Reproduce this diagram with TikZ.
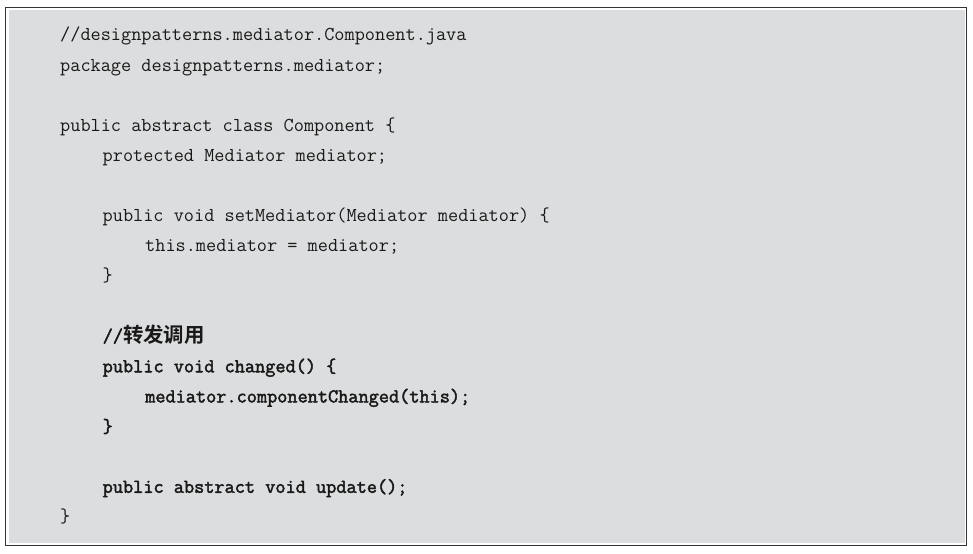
\documentclass[tikz,border=0pt]{standalone}
\usepackage{fontspec}
\newfontfamily\cjkb{Noto Sans CJK SC Bold}
\newfontfamily\ttbold{Latin Modern Mono}[FakeBold=2.2]
\definecolor{codebg}{HTML}{DCDDDE}
\definecolor{frame}{HTML}{333333}
\begin{document}
\begin{tikzpicture}[x=1bp,y=-1bp,
  code/.style={anchor=base west,inner sep=0pt,font=\fontsize{19.8}{20}\selectfont\ttfamily,text=black!90},
  codeb/.style={code,font=\fontsize{19.8}{20}\selectfont\ttbold}]
\useasboundingbox (0,0) rectangle (973,554);
\fill[white] (0,0) rectangle (973,554);
\draw[frame,line width=1.2bp] (5.5,7.5) rectangle (966.5,545.5);
\fill[codebg] (8.5,10.5) rectangle (964.5,542.5);
\def\lx{60}\def\ly{102.5}\def\lz{145}
\node[code] (L0) at (\lx,41) {//designpatterns.mediator.Component.java};
\node[code] (L1) at (\lx,71.1) {package designpatterns.mediator;};
\node[code] (L3) at (\lx,131.4) {public abstract class Component \{};
\node[code] (L4) at (\ly,161.5) {protected Mediator mediator;};
\node[code] (L6) at (\ly,221.7) {public void setMediator(Mediator mediator) \{};
\node[code] (L7) at (\lz,251.8) {this.mediator = mediator;};
\node[code] (L8) at (\ly,281.9) {\}};
\node[codeb] (L10) at (\ly,342.2) {//{\cjkb\fontsize{20.5}{20}\selectfont 转发调用}};
\node[codeb] (L11) at (\ly,372.3) {public void changed() \{};
\node[codeb] (L12) at (\lz,402.4) {mediator.componentChanged(this);};
\node[codeb] (L13) at (\ly,432.5) {\}};
\node[codeb] (L15) at (\ly,492.8) {public abstract void update();};
\node[code] (L16) at (\lx,522.9) {\}};
\end{tikzpicture}
\end{document}
